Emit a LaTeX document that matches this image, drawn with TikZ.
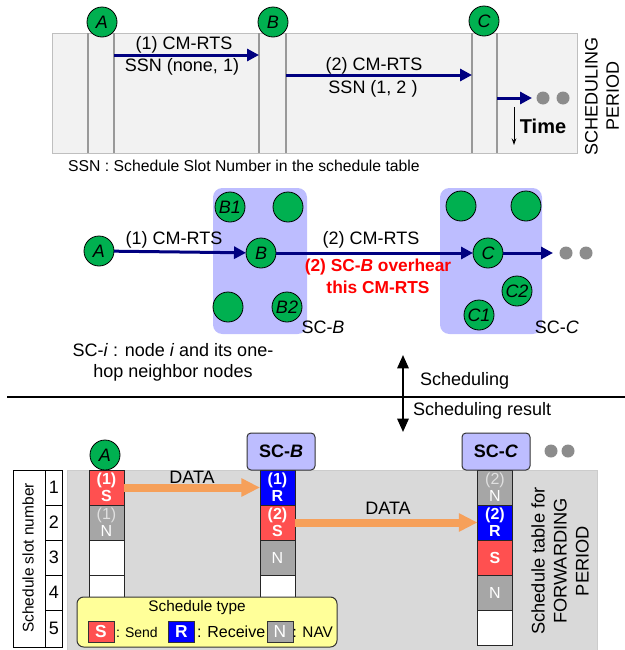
\documentclass[tikz,border=0pt]{standalone}
\usepackage{fontspec}
\setmainfont{Liberation Sans}
\usetikzlibrary{arrows.meta}

\definecolor{nodegreen}{HTML}{00B050}
\definecolor{navyarrow}{HTML}{000080}
\definecolor{lav}{HTML}{BDBDFF}
\definecolor{sendred}{HTML}{FF5050}
\definecolor{recvblue}{HTML}{0000FF}
\definecolor{navgray}{HTML}{A6A6A6}
\definecolor{panelgray}{HTML}{D9D9D9}
\definecolor{toppanel}{HTML}{F2F2F2}
\definecolor{dataorange}{HTML}{F6A05A}
\definecolor{legendyellow}{HTML}{FFFF99}
\definecolor{dotgray}{HTML}{8C8C8C}

\begin{document}
\begin{tikzpicture}[x=0.75pt,y=-0.75pt,
  every node/.style={inner sep=0pt,outer sep=0pt},
  sn/.style={circle,draw=black,line width=0.6pt,fill=nodegreen,minimum size=22.5pt,
    font=\fontsize{13.5}{14}\selectfont\itshape},
  lbl/.style={font=\fontsize{13.5}{16}\selectfont},
  msg/.style={draw=navyarrow,line width=2.25pt,-{Triangle[length=9pt,width=9pt]}},
  life/.style={draw=black!40,line width=1pt},
  dotn/.style={circle,fill=dotgray,minimum size=9.75pt},
  region/.style={fill=lav,rounded corners=7pt,minimum height=109.5pt},
  cellbox/.style={draw=black!85,line width=0.75pt,minimum size=26.25pt,align=center,
    font=\fontsize{12}{12.5}\selectfont},
  sendc/.style={cellbox,fill=sendred,text=white,font=\fontsize{12}{12.5}\selectfont\bfseries},
  recvc/.style={cellbox,fill=recvblue,text=white,font=\fontsize{12}{12.5}\selectfont\bfseries},
  navc/.style={cellbox,fill=navgray,text=white},
  emptyc/.style={cellbox,fill=white},
  scbox/.style={draw=black!80,line width=0.75pt,rounded corners=3pt,fill=lav,
    minimum width=51pt,minimum height=27.75pt,font=\fontsize{13.5}{14}\selectfont\bfseries},
  dataarrow/.style={draw=dataorange,line width=6pt,-{Triangle[length=14pt,width=13pt]}},
  legbox/.style={draw=black!80,line width=0.75pt,minimum width=19.5pt,minimum height=15.75pt,
    font=\fontsize{13}{14}\selectfont},
]
\useasboundingbox (0,0) rectangle (625,650);

% ---------------- scheduling period (time chart) ----------------
\fill[toppanel,draw=black!25,line width=0.75pt] (52,33) rectangle (577,153);
\foreach \lx in {88,114,259,286,472,497}
  \draw[life] (\lx,33) -- (\lx,153);
\node[sn] (tA) at (102,22) {A};
\node[sn] (tB) at (273,22) {B};
\node[sn] (tC) at (484,21) {C};

\coordinate (tA1) at (114,55);
\coordinate (tB1) at (259,55);
\coordinate (tB2) at (286,75);
\coordinate (tC2) at (472,75);
\coordinate (tC3) at (497,98);
\coordinate (tN3) at (532,98);
\draw[msg] (tA1) -- (tB1);
\draw[msg] (tB2) -- (tC2);
\draw[msg] (tC3) -- (tN3);
\node[lbl] (m1a) at (184,45) {(1) CM-RTS};
\node[lbl] (m1b) at (182,67) {SSN (none, 1)};
\node[lbl] (m2a) at (374,66) {(2) CM-RTS};
\node[lbl] (m2b) at (373,89) {SSN (1, 2 )};
\node[dotn] (td1) at (543,98) {};
\node[dotn] (td2) at (563,98) {};

\coordinate (tm1) at (514,107);
\coordinate (tm2) at (514,145);
\draw[line width=0.75pt,-{Stealth[length=5pt,width=3.5pt]}] (tm1) -- (tm2);
\node[font=\fontsize{15}{16}\selectfont\bfseries] (time) at (543,126) {Time};
\node[rotate=90,align=center,font=\fontsize{13.5}{16}\selectfont] (sp) at (602,96)
  {SCHEDULING\\PERIOD};
\node[font=\fontsize{11.8}{13}\selectfont] (ssn) at (244,166)
  {SSN : Schedule Slot Number in the schedule table};

% ---------------- schedule clusters ----------------
\node[region,minimum width=70.5pt] (regB) at (260,261) {};
\node[region,minimum width=76.5pt] (regC) at (491,261) {};

\node[sn] (mA) at (99,251) {A};
\node[sn] (mB) at (261,253) {B};
\node[sn] (mB1) at (230,207) {B1};
\node[sn] (mBn1) at (288,207) {};
\node[sn] (mBn2) at (228,307) {};
\node[sn] (mB2) at (287,307) {B2};
\node[sn] (mC) at (488,253) {C};
\node[sn] (mCn1) at (461,206) {};
\node[sn] (mCn2) at (526,206) {};
\node[sn] (mC2) at (517,291) {C2};
\node[sn] (mC1) at (479,315) {C1};

\coordinate (mEnd) at (553,253);
\draw[msg] (mA) -- (mB);
\draw[msg] (mB) -- (mC);
\draw[msg] (mC) -- (mEnd);
\node[dotn] (md1) at (566,253) {};
\node[dotn] (md2) at (586,253) {};

\node[lbl] (l1) at (174,240) {(1) CM-RTS};
\node[lbl] (l2) at (371,240) {(2) CM-RTS};
\node[align=center,text=red,font=\fontsize{13}{16.5}\selectfont\bfseries] (ovh) at (378,276)
  {(2) SC-\textit{B} overhear\\this CM-RTS};
\node[lbl] (scBl) at (323,327) {SC-\textit{B}};
\node[lbl] (scCl) at (557,327) {SC-\textit{C}};
\node[align=center,font=\fontsize{13.5}{15.75}\selectfont] (sci) at (173,362)
  {SC-\textit{i} : node \textit{i} and its one-\\hop neighbor nodes};

% ---------------- divider and exchange arrow ----------------
\coordinate (dl) at (7,397);
\coordinate (dr) at (625,397);
\draw[line width=1pt] (dl) -- (dr);
\coordinate (su) at (403,355);
\coordinate (sd) at (403,432);
\draw[line width=1.5pt,{Triangle[length=10pt,width=8.5pt]}-{Triangle[length=10pt,width=8.5pt]}] (su) -- (sd);
\node[lbl,anchor=west] (sch) at (420,381) {Scheduling};
\node[lbl,anchor=west] (schr) at (413,411) {Scheduling result};

% ---------------- forwarding period schedule tables ----------------
\fill[panelgray,draw=black!20,line width=0.75pt] (67,470) rectangle (597,652);

% slot number column
\draw[line width=0.75pt] (13,470) rectangle (62,647);
\draw[line width=0.75pt] (45,470) -- (45,647);
\foreach \ry in {505,540,575,610}
  \draw[line width=0.75pt] (45,\ry) -- (62,\ry);
\foreach \n/\ry in {1/487.5,2/522.5,3/557.5,4/592.5,5/628}
  \node[lbl] (num\n) at (54,\ry) {\n};
\node[rotate=90,font=\fontsize{11.6}{13}\selectfont] (ssl) at (28,558) {Schedule slot number};

% node A
\node[sendc] (a1) at (106.5,487.5) {(1)\\S};
\node[navc] (a2) at (106.5,522.5) {\textcolor{black!12}{(1)}\\N};
\node[emptyc] (a3) at (106.5,557.5) {};
\node[emptyc] (a4) at (106.5,592.5) {};
\node[emptyc] (a5) at (106.5,627.5) {};
\node[sn] (bA) at (105,455) {A};

% SC-B
\node[recvc] (b1) at (277.5,487.5) {(1)\\R};
\node[sendc] (b2) at (277.5,522.5) {(2)\\S};
\node[navc] (b3) at (277.5,557.5) {N};
\node[emptyc] (b4) at (277.5,592.5) {};
\node[emptyc] (b5) at (277.5,627.5) {};
\node[scbox] (bSCB) at (281,451.5) {SC-\textit{B}};

% SC-C
\node[navc] (c1) at (495,487.5) {\textcolor{black!12}{(2)}\\N};
\node[recvc] (c2) at (495,522.5) {(2)\\R};
\node[sendc] (c3) at (495,557.5) {S};
\node[navc] (c4) at (495,592.5) {N};
\node[emptyc] (c5) at (495,627.5) {};
\node[scbox] (bSCC) at (496,451.5) {SC-\textit{C}};
\node[dotn] (bd1) at (551,451) {};
\node[dotn] (bd2) at (568,451) {};

% data transfers
\draw[dataarrow] (a1.east) -- (b1.west);
\draw[dataarrow] (b2.east) -- (c2.west);
\node[lbl] (d1) at (192,477) {DATA};
\node[lbl] (d2) at (388,508) {DATA};

\node[rotate=90,align=center,font=\fontsize{13.7}{16.5}\selectfont] (stf) at (560,561)
  {Schedule table for\\FORWARDING\\PERIOD};

% legend
\node[fill=legendyellow,draw=black!80,line width=0.75pt,rounded corners=5pt,
  minimum width=195pt,minimum height=37.5pt] (leg) at (207,622) {};
\node[font=\fontsize{11.5}{13}\selectfont] (legt) at (197,608) {Schedule type};
\node[legbox,fill=sendred,text=white,font=\fontsize{13}{14}\selectfont\bfseries] (lS) at (101,631.5) {S};
\node[anchor=west,font=\fontsize{10.5}{12}\selectfont] (lSt) at (116,632) {: Send};
\node[legbox,fill=recvblue,text=white,font=\fontsize{13}{14}\selectfont\bfseries] (lR) at (181.5,631.5) {R};
\node[anchor=west,font=\fontsize{12}{13}\selectfont] (lRt) at (197,632) {: Receive};
\node[legbox,fill=navgray,text=white] (lN) at (280,631.5) {N};
\node[anchor=west,font=\fontsize{11.5}{13}\selectfont] (lNt) at (292.5,632) {: NAV};
\end{tikzpicture}
\end{document}
